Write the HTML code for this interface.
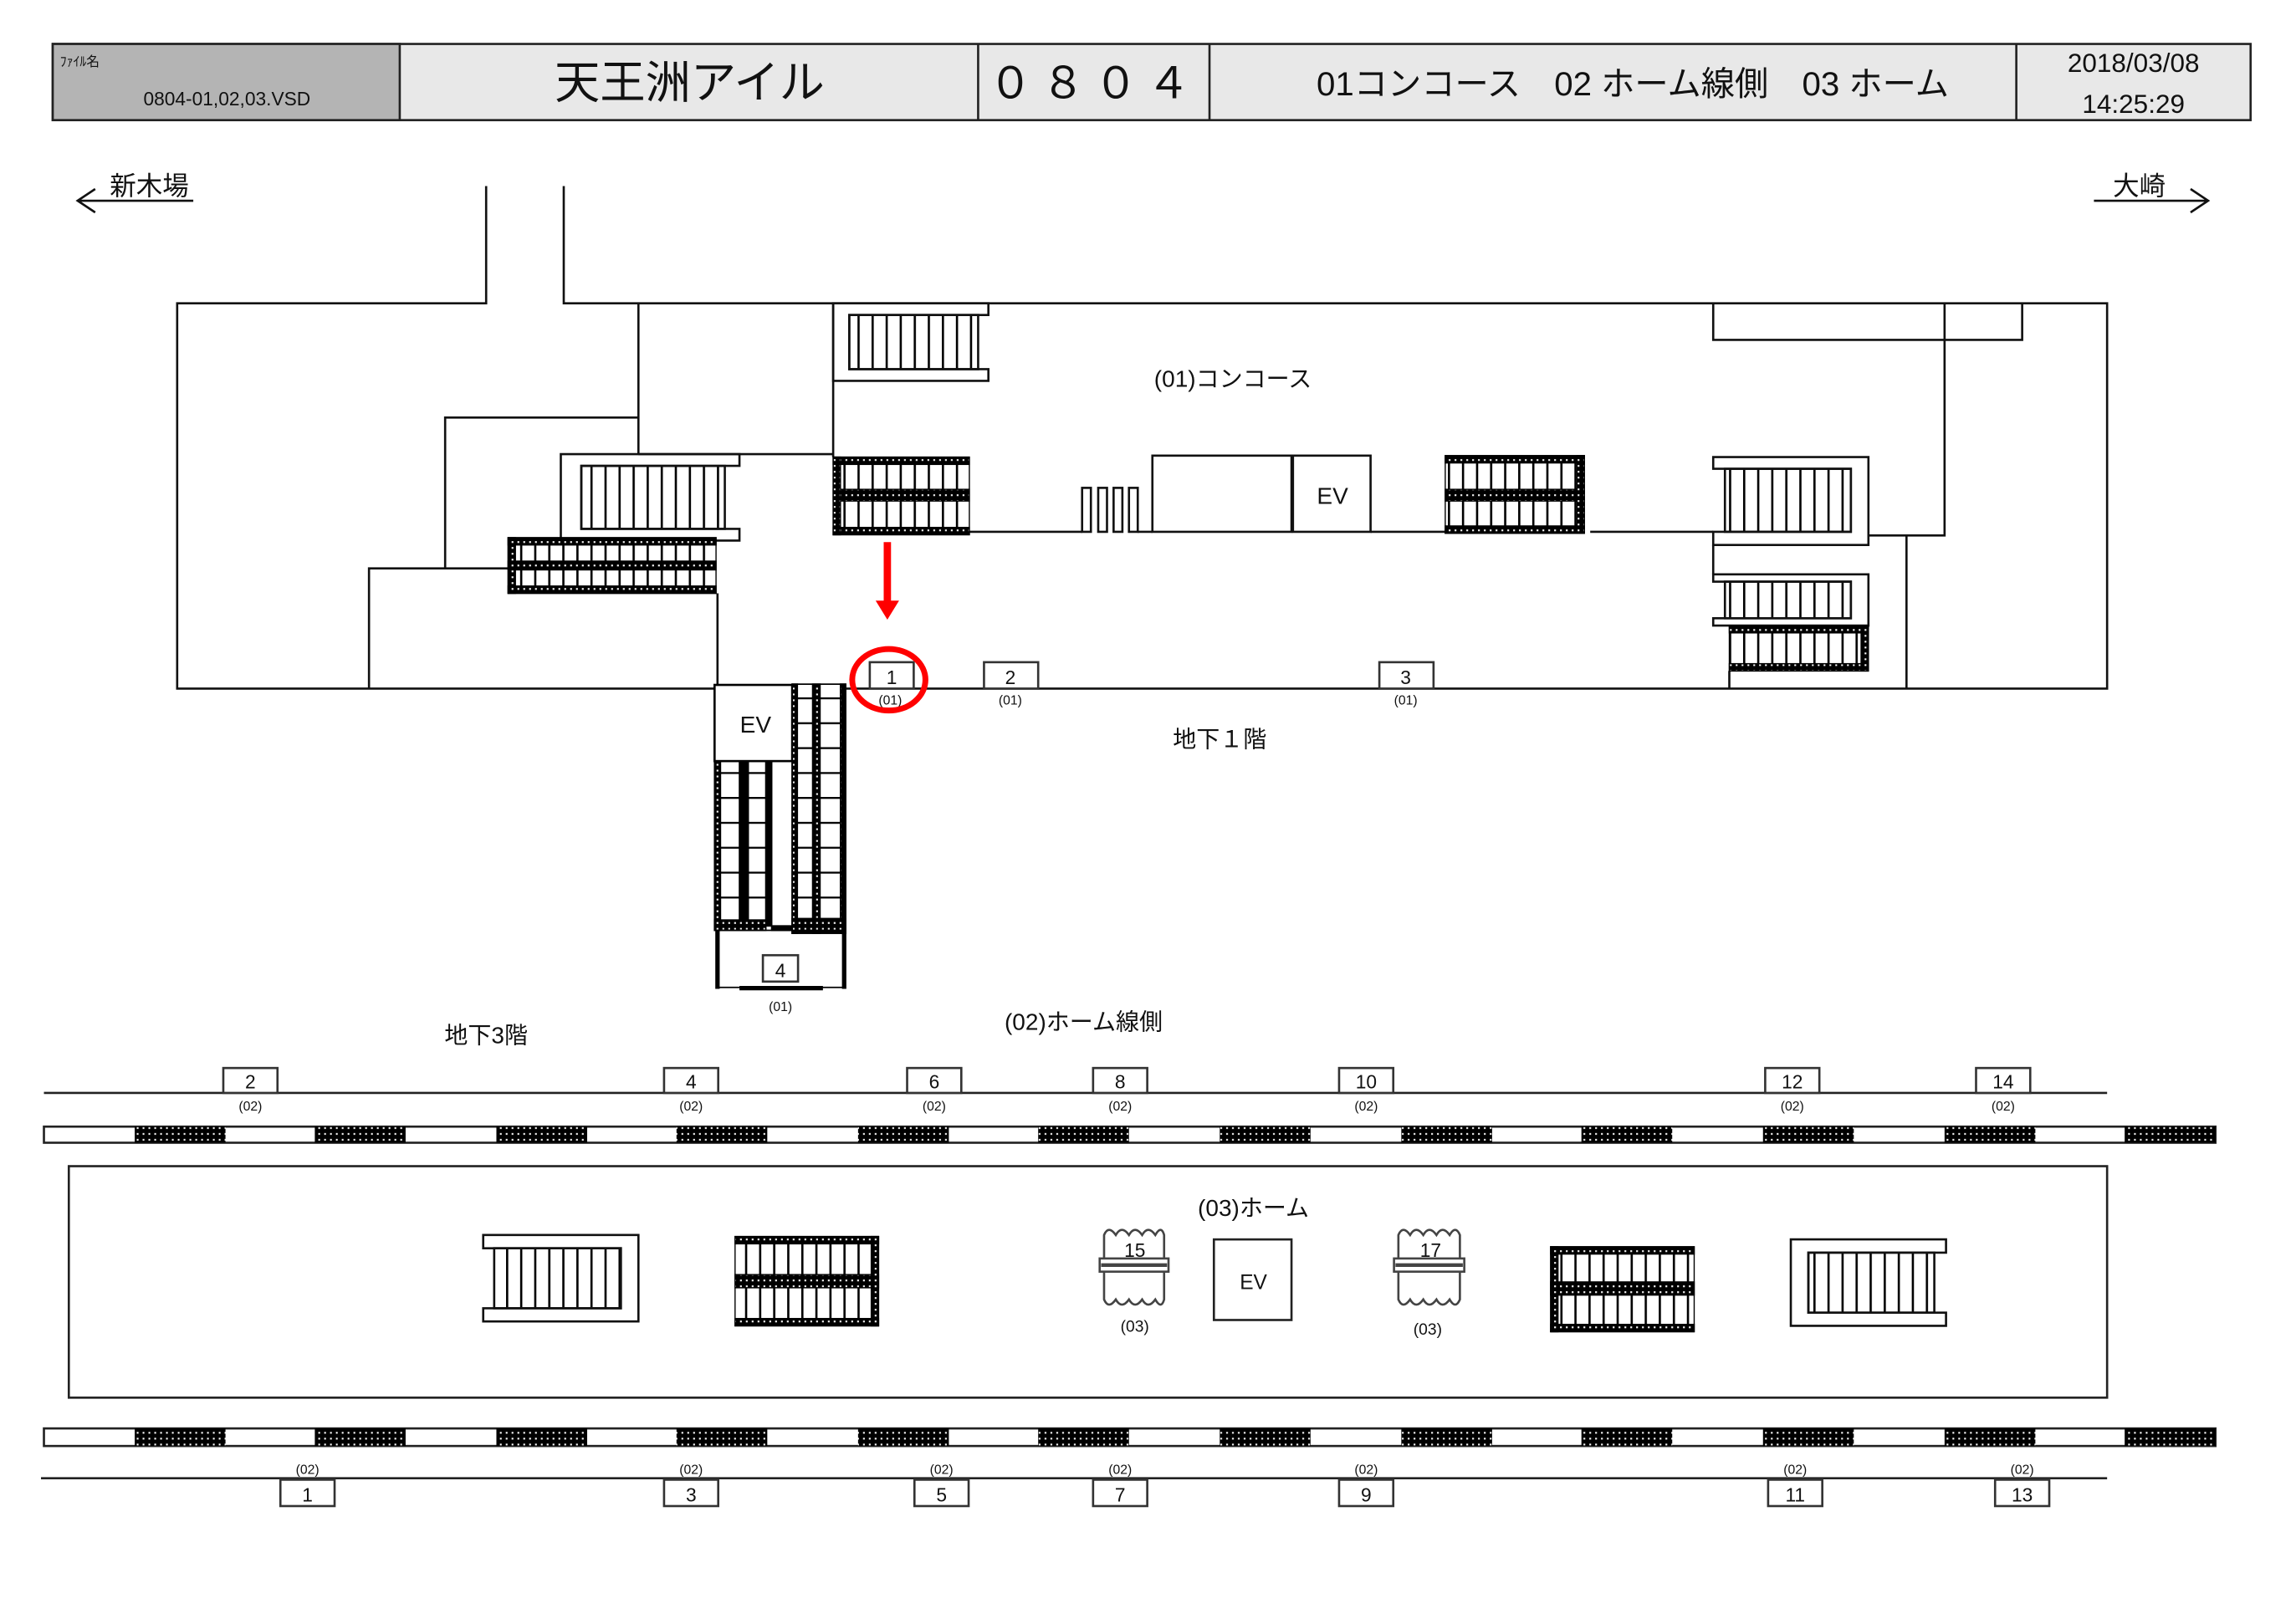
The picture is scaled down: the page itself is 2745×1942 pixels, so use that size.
<!DOCTYPE html>
<html><head><meta charset="utf-8"><style>
html,body{margin:0;padding:0;background:#fff}
svg{display:block}
text{font-family:"Liberation Sans","Noto Sans CJK JP",sans-serif;fill:#111}
</style></head><body>
<svg width="2745" height="1942" viewBox="0 0 1568 1108.5" preserveAspectRatio="none" xmlns="http://www.w3.org/2000/svg">
<defs>
<pattern id="d" width="4" height="4" patternUnits="userSpaceOnUse"><rect width="4" height="4" fill="#000"/><rect x="1.4" y="1.4" width="1.2" height="1.2" fill="#fff"/></pattern>
<pattern id="tv" width="9.6" height="10" patternUnits="userSpaceOnUse"><rect width="1.5" height="10" fill="#000"/></pattern>
<pattern id="th" width="10" height="17" patternUnits="userSpaceOnUse"><rect width="10" height="1.3" fill="#000"/></pattern>
</defs>
<rect width="1568" height="1109" fill="#fff"/>

<!-- header -->
<rect x="36" y="30" width="1501" height="52" fill="#e8e8e8" stroke="#222" stroke-width="1.5"/>
<rect x="36" y="30" width="237" height="52" fill="#b4b4b4" stroke="#222" stroke-width="1.5"/>
<g stroke="#222" stroke-width="1.5"><line x1="668" y1="30" x2="668" y2="82"/><line x1="826" y1="30" x2="826" y2="82"/><line x1="1377" y1="30" x2="1377" y2="82"/></g>
<text x="41" y="45" font-size="9">ﾌｧｲﾙ名</text>
<text x="155" y="72" font-size="13" text-anchor="middle">0804-01,02,03.VSD</text>
<text x="471" y="67" font-size="31" text-anchor="middle">天王洲アイル</text>
<text x="747" y="67" font-size="30" text-anchor="middle" letter-spacing="6">０８０４</text>
<text x="1115" y="65" font-size="23" text-anchor="middle">01コンコース　02 ホーム線側　03 ホーム</text>
<text x="1457" y="49" font-size="18" text-anchor="middle">2018/03/08</text>
<text x="1457" y="77" font-size="18" text-anchor="middle">14:25:29</text>

<!-- direction arrows -->
<text x="102" y="133" font-size="18" text-anchor="middle">新木場</text>
<text x="1461" y="133" font-size="18" text-anchor="middle">大崎</text>
<g stroke="#111" stroke-width="1.5" fill="none">
<path d="M132 137 H53 M65 129 L53 137 L65 145"/>
<path d="M1430 137 H1508 M1496 129 L1508 137 L1496 145"/>
</g>

<!-- B1 walls -->
<g stroke="#111" stroke-width="1.5" fill="none">
<path d="M332 127 V207 H121 V470 H490"/>
<path d="M385 127 V207 H1439 V470 H578"/>
<path d="M436 207 V310"/>
<path d="M304 388 V285 H436"/>
<path d="M252 470 V388 H348"/>
<path d="M490 405 V470"/>
<path d="M436 310 H569"/>
<path d="M569 207 V312"/>
<path d="M662 363 H739 M777 363 H787 M936 363 H987 M1086 363 H1170"/>
<rect x="787" y="311" width="95" height="52"/>
<rect x="883" y="311" width="53" height="52"/>
<rect x="739" y="333" width="6" height="30"/><rect x="750" y="333" width="6" height="30"/><rect x="760.5" y="333" width="6" height="30"/><rect x="771" y="333" width="6" height="30"/>
<path d="M1170 207 V232 H1381 V207 M1328 207 V365.5 H1276 M1302 365 V470 M1170 372 V392 M1181 458 V470"/>
</g>
<text x="910" y="344" font-size="16" text-anchor="middle">EV</text>
<text x="842" y="264" font-size="16" text-anchor="middle">(01)コンコース</text>

<!-- stairs (plain) -->
<g stroke="#111" stroke-width="1.5">
<rect x="580" y="215" width="88" height="37" fill="url(#tv)"/>
<path d="M675 207 H569 V260 H675 V252 H580 V215 H675 Z" fill="none"/>
<rect x="397" y="318" width="98" height="43" fill="url(#tv)"/>
<path d="M505 310 H383 V369 H505 V361 H397 V318 H505 Z" fill="none"/>
<rect x="1178" y="320" width="86" height="43" fill="url(#tv)"/>
<path d="M1170 312 H1276 V372 H1170 V363 H1264 V320 H1170 Z" fill="none"/>
<rect x="1178" y="397" width="86" height="25" fill="url(#tv)"/>
<path d="M1170 392 H1276 V427 H1170 V422 H1264 V397 H1170 Z" fill="none"/>
<rect x="337.5" y="852" width="86.5" height="41" fill="url(#tv)"/>
<path d="M330 843 H436 V902 H330 V893 H424 V852 H330 Z" fill="none"/>
<rect x="1235" y="855" width="86" height="41" fill="url(#tv)"/>
<path d="M1329 846 H1223 V905 H1329 V896 H1235 V855 H1329 Z" fill="none"/>
</g>

<!-- escalators (dotted) -->
<g stroke="#000" stroke-width="0.8">
<rect x="569" y="312" width="93" height="53" fill="url(#tv)"/>
<rect x="569" y="312" width="93" height="5" fill="url(#d)"/><rect x="569" y="334" width="93" height="8" fill="url(#d)"/><rect x="569" y="360" width="93" height="5" fill="url(#d)"/><rect x="569" y="312" width="5" height="53" fill="url(#d)"/>
<rect x="347" y="367" width="142" height="38" fill="url(#tv)"/>
<rect x="347" y="367" width="142" height="5" fill="url(#d)"/><rect x="347" y="383" width="142" height="6" fill="url(#d)"/><rect x="347" y="400" width="142" height="5" fill="url(#d)"/><rect x="347" y="367" width="5" height="38" fill="url(#d)"/>
<rect x="987" y="311" width="95" height="53" fill="url(#tv)"/>
<rect x="987" y="311" width="95" height="5" fill="url(#d)"/><rect x="987" y="334" width="95" height="8" fill="url(#d)"/><rect x="987" y="359" width="95" height="5" fill="url(#d)"/><rect x="1077" y="311" width="5" height="53" fill="url(#d)"/>
<rect x="1181" y="427" width="95" height="31" fill="url(#tv)"/>
<rect x="1181" y="427" width="95" height="5" fill="url(#d)"/><rect x="1181" y="453" width="95" height="5" fill="url(#d)"/><rect x="1271" y="427" width="5" height="31" fill="url(#d)"/>
<rect x="502" y="844" width="98" height="61" fill="url(#tv)"/>
<rect x="502" y="844" width="98" height="5" fill="url(#d)"/><rect x="502" y="870" width="98" height="9" fill="url(#d)"/><rect x="502" y="900" width="98" height="5" fill="url(#d)"/><rect x="595" y="844" width="5" height="61" fill="url(#d)"/>
<rect x="1059" y="851" width="98" height="58" fill="url(#tv)"/>
<rect x="1059" y="851" width="98" height="5" fill="url(#d)"/><rect x="1059" y="875" width="98" height="9" fill="url(#d)"/><rect x="1059" y="904" width="98" height="5" fill="url(#d)"/><rect x="1059" y="851" width="5" height="58" fill="url(#d)"/>
</g>

<!-- vertical shaft -->
<g stroke="#000" stroke-width="1">
<rect x="488" y="467.5" width="53" height="52" fill="#fff" stroke-width="1.5"/>
<rect x="541" y="467" width="36.5" height="170" fill="#fff"/>
<rect x="544" y="467" width="11" height="160" fill="url(#th)" stroke="none"/>
<rect x="560" y="467" width="14" height="160" fill="url(#th)" stroke="none"/>
<rect x="541" y="467" width="3.5" height="170" fill="url(#d)"/>
<rect x="555" y="467" width="5" height="170" fill="url(#d)"/>
<rect x="574" y="467" width="3.5" height="170" fill="url(#d)"/>
<rect x="541" y="627" width="36.5" height="10" fill="url(#d)"/>
<rect x="492" y="520" width="13" height="108" fill="url(#th)" stroke="none"/>
<rect x="511" y="520" width="12" height="108" fill="url(#th)" stroke="none"/>
<rect x="488" y="520" width="4" height="115" fill="url(#d)"/>
<rect x="505" y="520" width="6" height="108" fill="#000"/>
<rect x="523" y="520" width="4" height="112" fill="#000"/>
<rect x="488" y="628" width="35" height="7" fill="url(#d)"/>
<rect x="527" y="632" width="14" height="3" fill="#000"/>
</g>
<g stroke="#000" fill="none">
<path d="M490 635 V675 M576.5 637 V675" stroke-width="3"/>
<path d="M490 674 H577" stroke-width="1"/>
<path d="M505 674.5 H562" stroke-width="3"/>
<path d="M490 635 H577" stroke-width="1"/>
</g>
<text x="516" y="500" font-size="16" text-anchor="middle">EV</text>
<rect x="521" y="652" width="24" height="18" fill="#fff" stroke="#333" stroke-width="1.5"/>
<text x="533" y="667" font-size="13" text-anchor="middle">4</text>
<text x="533" y="690" font-size="9" text-anchor="middle">(01)</text>

<!-- red marker -->
<line x1="606" y1="370" x2="606" y2="412" stroke="#f00" stroke-width="5"/>
<path d="M598 410 H614 L606 423 Z" fill="#f00"/>
<g fill="#fff" stroke="#333" stroke-width="1.5">
<rect x="594" y="452" width="30" height="18"/>
<rect x="672" y="452" width="37" height="18"/>
<rect x="942" y="452" width="37" height="18"/>
</g>
<text x="609" y="467" font-size="13" text-anchor="middle">1</text>
<text x="690" y="467" font-size="13" text-anchor="middle">2</text>
<text x="960" y="467" font-size="13" text-anchor="middle">3</text>
<text x="608" y="481" font-size="9" text-anchor="middle">(01)</text>
<text x="690" y="481" font-size="9" text-anchor="middle">(01)</text>
<text x="960" y="481" font-size="9" text-anchor="middle">(01)</text>
<ellipse cx="607" cy="464" rx="25" ry="21" fill="none" stroke="#f00" stroke-width="4"/>
<text x="833" y="510" font-size="16" text-anchor="middle">地下１階</text>

<!-- B3 -->
<text x="332" y="712" font-size="16" text-anchor="middle">地下3階</text>
<text x="740" y="703" font-size="16" text-anchor="middle">(02)ホーム線側</text>
<g stroke="#222" stroke-width="1.5" fill="none">
<line x1="30" y1="746" x2="1439" y2="746"/>
<line x1="28" y1="1009" x2="1439" y2="1009"/>
<rect x="30" y="769" width="1483" height="11"/>
<rect x="30" y="975" width="1483" height="12"/>
<rect x="47" y="796" width="1392" height="158"/>
</g>
<g fill="url(#d)">
<rect x="92" y="769" width="62" height="11"/><rect x="215" y="769" width="62" height="11"/><rect x="339" y="769" width="62" height="11"/><rect x="462" y="769" width="62" height="11"/><rect x="586" y="769" width="62" height="11"/><rect x="709" y="769" width="62" height="11"/><rect x="833" y="769" width="62" height="11"/><rect x="957" y="769" width="62" height="11"/><rect x="1080" y="769" width="62" height="11"/><rect x="1204" y="769" width="62" height="11"/><rect x="1328" y="769" width="62" height="11"/><rect x="1451" y="769" width="62" height="11"/>
<rect x="92" y="975" width="62" height="12"/><rect x="215" y="975" width="62" height="12"/><rect x="339" y="975" width="62" height="12"/><rect x="462" y="975" width="62" height="12"/><rect x="586" y="975" width="62" height="12"/><rect x="709" y="975" width="62" height="12"/><rect x="833" y="975" width="62" height="12"/><rect x="957" y="975" width="62" height="12"/><rect x="1080" y="975" width="62" height="12"/><rect x="1204" y="975" width="62" height="12"/><rect x="1328" y="975" width="62" height="12"/><rect x="1451" y="975" width="62" height="12"/>
</g>

<g fill="#fff" stroke="#333" stroke-width="1.5">
<rect x="152.5" y="729" width="37" height="17"/><rect x="453.5" y="729" width="37" height="17"/><rect x="619.5" y="729" width="37" height="17"/><rect x="746.5" y="729" width="37" height="17"/><rect x="914.5" y="729" width="37" height="17"/><rect x="1205.5" y="729" width="37" height="17"/><rect x="1349.5" y="729" width="37" height="17"/>
<rect x="191.5" y="1010" width="37" height="18"/><rect x="453.5" y="1010" width="37" height="18"/><rect x="624.5" y="1010" width="37" height="18"/><rect x="746.5" y="1010" width="37" height="18"/><rect x="914.5" y="1010" width="37" height="18"/><rect x="1207.5" y="1010" width="37" height="18"/><rect x="1362.5" y="1010" width="37" height="18"/>
</g>
<g font-size="13" text-anchor="middle">
<text x="171" y="743">2</text><text x="472" y="743">4</text><text x="638" y="743">6</text><text x="765" y="743">8</text><text x="933" y="743">10</text><text x="1224" y="743">12</text><text x="1368" y="743">14</text>
<text x="210" y="1025">1</text><text x="472" y="1025">3</text><text x="643" y="1025">5</text><text x="765" y="1025">7</text><text x="933" y="1025">9</text><text x="1226" y="1025">11</text><text x="1381" y="1025">13</text>
</g>
<g font-size="9" text-anchor="middle">
<text x="171" y="758">(02)</text><text x="472" y="758">(02)</text><text x="638" y="758">(02)</text><text x="765" y="758">(02)</text><text x="933" y="758">(02)</text><text x="1224" y="758">(02)</text><text x="1368" y="758">(02)</text>
<text x="210" y="1006">(02)</text><text x="472" y="1006">(02)</text><text x="643" y="1006">(02)</text><text x="765" y="1006">(02)</text><text x="933" y="1006">(02)</text><text x="1226" y="1006">(02)</text><text x="1381" y="1006">(02)</text>
</g>

<!-- platform items -->
<text x="856" y="830" font-size="16" text-anchor="middle">(03)ホーム</text>
<rect x="829" y="846" width="53" height="55" fill="#fff" stroke="#222" stroke-width="1.5"/>
<text x="856" y="880" font-size="14" text-anchor="middle">EV</text>
<g stroke="#444" stroke-width="1.5" fill="#fff">
<path d="M754 843 Q757 836 762 843 Q766 836 771 843 Q775 836 780 843 Q784 836 789 843 Q793 836 795 843 V887 Q793 894 789 887 Q784 894 780 887 Q775 894 771 887 Q766 894 762 887 Q757 894 754 887 Z"/>
<rect x="751" y="859" width="47" height="9"/>
<line x1="752" y1="863.5" x2="797" y2="863.5" stroke-width="2.5"/>
<path d="M955 843 Q958 836 963 843 Q967 836 972 843 Q976 836 981 843 Q985 836 990 843 Q994 836 997 843 V887 Q994 894 990 887 Q985 894 981 887 Q976 894 972 887 Q967 894 963 887 Q958 894 955 887 Z"/>
<rect x="952" y="859" width="48" height="9"/>
<line x1="953" y1="863.5" x2="999" y2="863.5" stroke-width="2.5"/>
</g>
<text x="775" y="858" font-size="13" text-anchor="middle">15</text>
<text x="977" y="858" font-size="13" text-anchor="middle">17</text>
<text x="775" y="909" font-size="11" text-anchor="middle">(03)</text>
<text x="975" y="911" font-size="11" text-anchor="middle">(03)</text>
</svg>
</body></html>
